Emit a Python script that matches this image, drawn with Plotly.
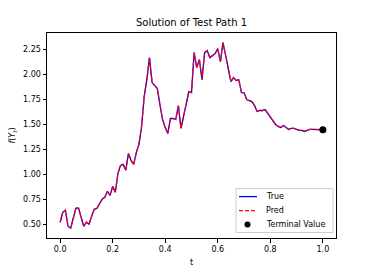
import plotly.graph_objects as go

t_values = [i / 100 for i in range(101)]
true_values = [
    0.52, 0.62, 0.64, 0.48, 0.46, 0.56, 0.66, 0.66, 0.56, 0.48,
    0.52, 0.50, 0.58, 0.65, 0.66, 0.71, 0.75, 0.77, 0.83, 0.79,
    0.88, 0.82, 1.01, 1.09, 1.10, 1.04, 1.21, 1.14, 1.10, 1.22,
    1.30, 1.48, 1.78, 1.95, 2.17, 1.92, 1.89, 1.86, 1.70, 1.55,
    1.47, 1.41, 1.56, 1.56, 1.55, 1.69, 1.46, 1.58, 1.70, 1.83,
    1.82, 2.22, 2.07, 2.15, 1.95, 2.22, 2.24, 2.17, 2.19, 2.21,
    2.26, 2.13, 2.32, 2.20, 2.05, 1.93, 1.97, 1.94, 1.95, 1.82,
    1.82, 1.75, 1.74, 1.73, 1.69, 1.63, 1.64, 1.64, 1.65, 1.61,
    1.57, 1.53, 1.50, 1.48, 1.47, 1.49, 1.47, 1.45, 1.46, 1.46,
    1.45, 1.44, 1.44, 1.43, 1.44, 1.45, 1.45, 1.45, 1.45, 1.45,
    1.447,
]
pred_values = list(true_values)
terminal_t = [1.0]
terminal_value = [1.447]

x_ticks = [0.0, 0.2, 0.4, 0.6, 0.8, 1.0]
y_ticks = [0.50, 0.75, 1.00, 1.25, 1.50, 1.75, 2.00, 2.25]
legend_labels = ["True", "Pred", "Terminal Value"]

font_family = "DejaVu Sans"
OFF = 8  # default page body margin
W, H = 374 - OFF, 273 - OFF
# plot area in screen pixels (reference coordinates)
L, R, T, B = 47, 336, 33, 238.5


def px(x):
    return (x - L) / (R - L)


def py(y):
    return (B - y) / (B - T)


fig = go.Figure()
fig.add_trace(go.Scatter(x=t_values, y=true_values, mode="lines", name=legend_labels[0],
                         line=dict(color="#0000ff", width=1.3)))
fig.add_trace(go.Scatter(x=t_values, y=pred_values, mode="lines", name=legend_labels[1],
                         line=dict(color="#ff0000", width=1.3, dash="4px,2px")))
fig.add_trace(go.Scatter(x=terminal_t, y=terminal_value, mode="markers", name=legend_labels[2],
                         marker=dict(color="black", size=7)))

axis_common = dict(
    showgrid=False, zeroline=False, showline=True, linecolor="black", linewidth=1,
    mirror=True, ticks="outside", ticklen=3.5, tickwidth=1, tickcolor="black",
    tickfont=dict(family=font_family, size=8, color="black"), automargin=False,
)

# manual legend (matplotlib style)
shapes = [
    dict(type="rect", xref="paper", yref="paper", x0=px(236), x1=px(333), y0=py(233), y1=py(189),
         line=dict(color="#cccccc", width=1), fillcolor="rgba(255,255,255,0.8)", layer="above"),
    dict(type="line", xref="paper", yref="paper", x0=px(239), x1=px(257), y0=py(197), y1=py(197),
         line=dict(color="#0000ff", width=1.3), layer="above"),
    dict(type="line", xref="paper", yref="paper", x0=px(239), x1=px(257), y0=py(211), y1=py(211),
         line=dict(color="#ff0000", width=1.3, dash="4px,2px"), layer="above"),
    dict(type="circle", xref="paper", yref="paper", x0=px(244.5), x1=px(250.5), y0=py(228), y1=py(222),
         line=dict(color="black", width=0), fillcolor="black", layer="above"),
]
annotations = []
for lab, yy in zip(legend_labels, [197, 211, 225]):
    annotations.append(dict(text=lab, xref="paper", yref="paper", x=px(264), y=py(yy),
                            xanchor="left", yanchor="middle", showarrow=False,
                            font=dict(size=8, family=font_family, color="black")))

fig.update_layout(
    width=W, height=H,
    margin=dict(l=L - OFF, r=374 - R, t=T - OFF, b=273 - B),
    paper_bgcolor="white", plot_bgcolor="white",
    font=dict(family=font_family, color="black"),
    title=dict(text="Solution of Test Path 1", x=((L + R) / 2 - OFF) / W, xanchor="center",
               y=1 - (22 - OFF) / H, yanchor="middle", font=dict(size=10, family=font_family)),
    xaxis=dict(range=[-0.05, 1.05], tickvals=x_ticks, tickformat=".1f",
               title=dict(text="t", font=dict(size=8), standoff=6), **axis_common),
    yaxis=dict(range=[0.362, 2.417], tickvals=y_ticks, tickformat=".2f",
               title=dict(text="<i>f</i>(<i>Y</i><sub><i>t</i></sub>)", font=dict(size=8), standoff=6),
               **axis_common),
    showlegend=False,
    shapes=shapes,
    annotations=annotations,
)

fig.write_html("out.html")
